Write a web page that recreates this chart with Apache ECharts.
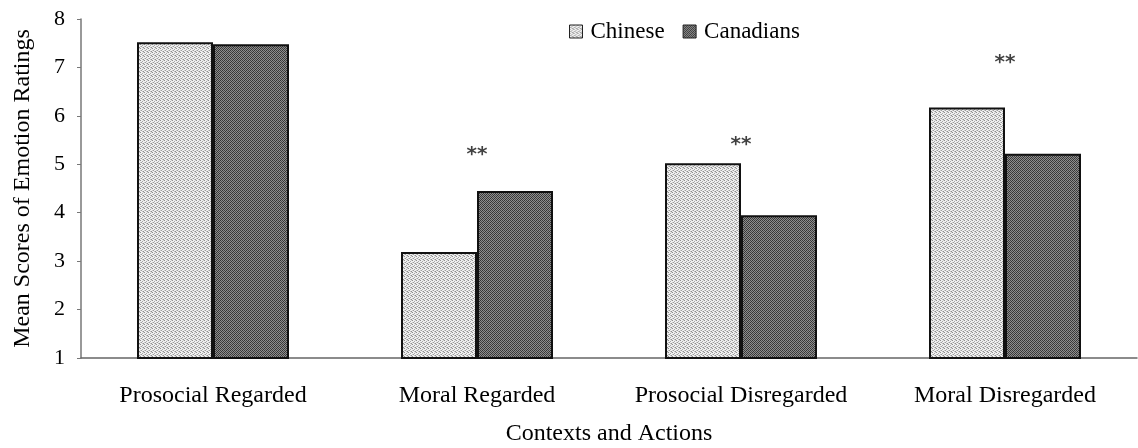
<!DOCTYPE html>
<html>
<head>
<meta charset="utf-8">
<script src="https://cdn.jsdelivr.net/npm/echarts@6/dist/echarts.min.js"></script>
<style>
html,body{margin:0;padding:0;background:#fff;}
#chart{width:1138px;height:448px;}
</style>
</head>
<body>
<div id="chart"></div>
<script>
const categories = ['Prosocial Regarded', 'Moral Regarded', 'Prosocial Disregarded', 'Moral Disregarded'];
const chinese = [7.52, 3.19, 5.02, 6.17];
const canadians = [7.48, 4.45, 3.95, 5.22];
const sigLabels = ['', '**', '**', '**'];
const sigY = [null, 5.2, 5.4, 7.1];
const yTicks = [1, 2, 3, 4, 5, 6, 7, 8];

function makePattern(bg, dots, size) {
  const c = document.createElement('canvas');
  c.width = size; c.height = size;
  const ctx = c.getContext('2d');
  ctx.fillStyle = bg; ctx.fillRect(0, 0, size, size);
  dots.forEach(d => { ctx.fillStyle = d[2]; ctx.fillRect(d[0], d[1], 1, 1); });
  return c;
}
const lightTile = makePattern('#f0f0f0', [
  [0,0,'#8f8f8f'],[2,1,'#a8a8a8'],[1,2,'#9c9c9c'],[3,3,'#8f8f8f'],[2,3,'#c0c0c0'],[0,2,'#c8c8c8'],[3,0,'#d0d0d0']
], 4);
const darkTile = makePattern('#8e8e8e', [
  [0,0,'#333'],[2,0,'#3d3d3d'],[1,1,'#4a4a4a'],[3,1,'#333'],[0,2,'#3d3d3d'],[2,2,'#333'],[1,3,'#333'],[3,3,'#4a4a4a']
], 4);

const font = 'Liberation Serif';
const chart = echarts.init(document.getElementById('chart'), null, {renderer: 'canvas'});
chart.setOption({
  animation: false,
  backgroundColor: '#fff',
  textStyle: {fontFamily: font, color: '#000'},
  grid: {left: 81, right: 1, top: 19, bottom: 90, containLabel: false, outerBoundsMode: 'none'},
  legend: {
    data: ['Chinese', 'Canadians'],
    left: 564, top: 15,
    itemWidth: 13, itemHeight: 13, itemGap: 18,
    textStyle: {fontFamily: font, fontSize: 23, color: '#000', padding: [0, 0, 0, 3]},
    icon: 'rect',
    itemStyle: {borderColor: '#222', borderWidth: 1}
  },
  xAxis: {
    type: 'category',
    data: categories,
    name: 'Contexts and Actions',
    nameLocation: 'middle',
    nameGap: 64,
    nameTextStyle: {fontFamily: font, fontSize: 24, color: '#000'},
    axisLine: {lineStyle: {color: '#666', width: 1.5}},
    axisTick: {show: false},
    axisLabel: {fontFamily: font, fontSize: 24, color: '#000', margin: 26, interval: 0}
  },
  yAxis: {
    type: 'value',
    min: yTicks[0], max: yTicks[yTicks.length - 1], interval: 1,
    name: 'Mean Scores of Emotion Ratings',
    nameLocation: 'middle',
    nameGap: 46,
    nameRotate: 90,
    nameTextStyle: {fontFamily: font, fontSize: 24, color: '#000'},
    axisLine: {show: true, lineStyle: {color: '#777', width: 1.5}},
    axisTick: {show: true, inside: false, length: 4, lineStyle: {color: '#777'}},
    axisLabel: {fontFamily: font, fontSize: 22, color: '#000', margin: 16},
    splitLine: {show: false}
  },
  series: [
    {
      name: 'Chinese', type: 'bar', data: chinese,
      barWidth: 76, barGap: '0%',
      itemStyle: {color: {image: lightTile, repeat: 'repeat'}, borderColor: '#111', borderWidth: 2}
    },
    {
      name: 'Canadians', type: 'bar', data: canadians,
      barWidth: 76, barGap: '0%',
      itemStyle: {color: {image: darkTile, repeat: 'repeat'}, borderColor: '#111', borderWidth: 2}
    },
    {
      name: 'sig', type: 'scatter',
      data: sigY.map((v, i) => (v === null ? null : {value: v, label: {formatter: sigLabels[i]}})),
      symbolSize: 1,
      itemStyle: {color: 'rgba(0,0,0,0)'},
      label: {show: true, position: 'inside', fontFamily: 'DejaVu Sans', fontSize: 20, fontWeight: 'bold', color: '#111'},
      silent: true
    }
  ]
});
</script>
</body>
</html>
